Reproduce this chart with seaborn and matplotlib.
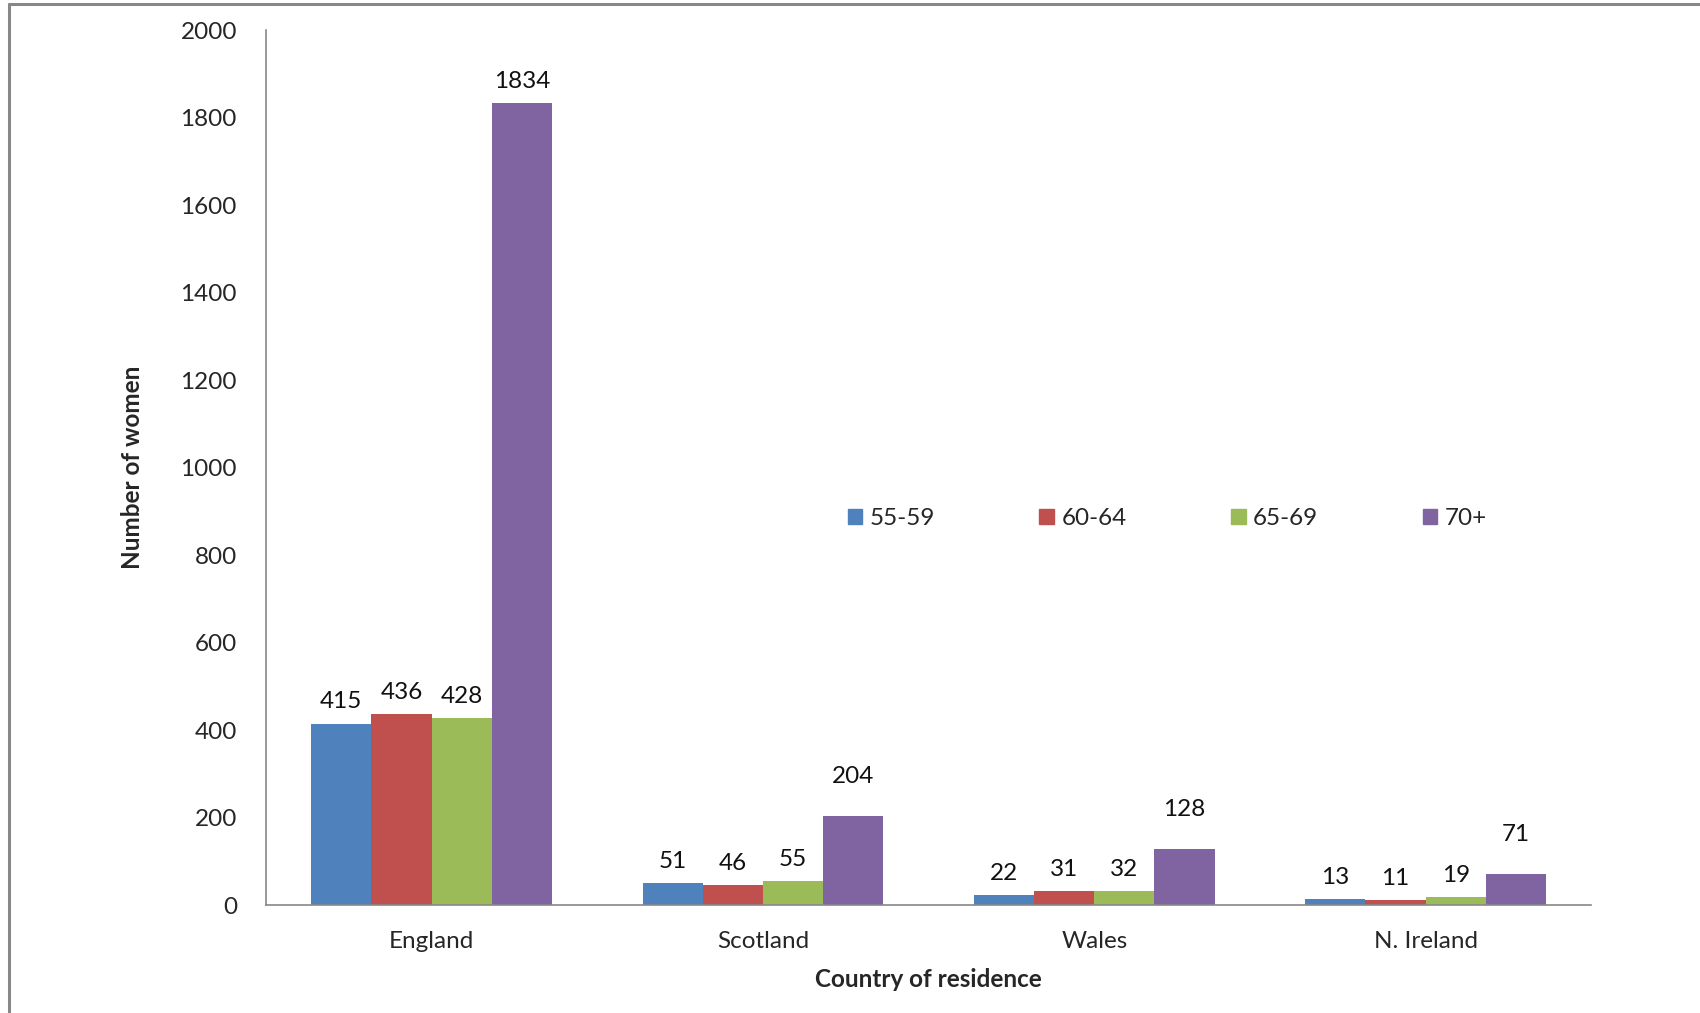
import pandas as pd
import matplotlib.pyplot as plt
import seaborn as sns
from matplotlib.patches import Patch
from matplotlib.lines import Line2D

# data
countries = ["England", "Scotland", "Wales", "N. Ireland"]
age_groups = ["55-59", "60-64", "65-69", "70+"]
women_55_59 = [415, 51, 22, 13]
women_60_64 = [436, 46, 31, 11]
women_65_69 = [428, 55, 32, 19]
women_70_plus = [1834, 204, 128, 71]
colors = ["#4F81BD", "#C0504D", "#9BBB59", "#8064A2"]

rows = []
for age, vals in zip(age_groups, [women_55_59, women_60_64, women_65_69, women_70_plus]):
    for c, v in zip(countries, vals):
        rows.append({"country": c, "age": age, "women": v})
df = pd.DataFrame(rows)

sns.set_style("white")
plt.rcParams["font.family"] = ["Lato", "DejaVu Sans"]
fs = 17.5

fig = plt.figure(figsize=(17, 10.13), dpi=100)
ax = fig.add_axes([0.1565, 0.1066, 0.7795, 0.8634])

sns.barplot(data=df, x="country", y="women", hue="age", order=countries,
            hue_order=age_groups, palette=colors, saturation=1, width=0.727,
            errorbar=None, legend=False, linewidth=0, ax=ax)

# value labels; the 70+ labels in the smaller groups sit a bit higher in the original
last = len(ax.containers) - 1
for i, cont in enumerate(ax.containers):
    for j, bar in enumerate(cont.patches):
        pad = 21 if (i == last and j > 0) else 8
        ax.annotate(f"{bar.get_height():.0f}", (bar.get_x() + bar.get_width() / 2, bar.get_height()),
                    xytext=(0, pad), textcoords="offset points", ha="center", va="bottom",
                    fontsize=fs, color="#111111")

ax.set_xlim(-0.5, 3.5)
ax.set_ylim(0, 2000)
ax.set_yticks(range(0, 2001, 200))
ax.set_xticks(range(len(countries)))
ax.set_xticks([-0.5, 0.5, 1.5, 2.5, 3.5], minor=True)
ax.tick_params(axis="x", which="major", length=0, pad=19, labelsize=fs)
ax.tick_params(axis="x", which="minor", length=8, width=1.2, color="#888888", direction="out")
ax.tick_params(axis="y", length=8, width=1.2, color="#888888", direction="out", pad=13, labelsize=fs)

for s in ["top", "right"]:
    ax.spines[s].set_visible(False)
for s in ["left", "bottom"]:
    ax.spines[s].set_color("#888888")
    ax.spines[s].set_linewidth(1.2)

ax.set_xlabel("Country of residence", fontsize=fs, fontweight="bold", labelpad=11)
ax.set_ylabel("Number of women", fontsize=fs, fontweight="bold", labelpad=26)

handles = [Patch(facecolor=c, edgecolor=c, label=a) for c, a in zip(colors, age_groups)]
ax.legend(handles=handles, loc="center", bbox_to_anchor=(0.68, 0.442), ncol=4,
          frameon=False, handlelength=0.6, handleheight=0.6, handletextpad=0.3,
          columnspacing=4.3, fontsize=fs)

# outer chart border (top and left edges visible)
fig.add_artist(Line2D([0.0055, 0.0055], [0, 0.996], color="#888888", lw=2.2, transform=fig.transFigure))
fig.add_artist(Line2D([0.0055, 1], [0.996, 0.996], color="#888888", lw=2.2, transform=fig.transFigure))

fig.savefig("out.png", dpi=100)
